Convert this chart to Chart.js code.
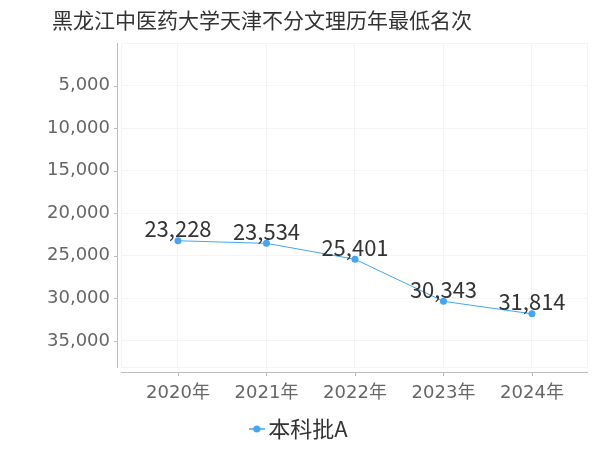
<!DOCTYPE html>
<html>
<head>
<meta charset="utf-8">
<script src="https://cdn.jsdelivr.net/npm/chart.js@4"></script>
<style>
  html, body { margin: 0; padding: 0; background: #fff; }
  #wrap { width: 600px; height: 450px; }
</style>
</head>
<body>
<div id="wrap"><canvas id="lineChart" width="600" height="450"></canvas></div>
<script>
// data
var years = ['2020年', '2021年', '2022年', '2023年', '2024年'];
var ranks = [23228, 23534, 25401, 30343, 31814];
var seriesName = '本科批A';
var yTicks = [5000, 10000, 15000, 20000, 25000, 30000, 35000];
var chartTitle = '黑龙江中医药大学天津不分文理历年最低名次';

var lineColor = '#42a5f5';
var axisColor = '#bdbdbd';
var gridColor = '#f4f4f4';

function fmt(v) {
  return v.toString().replace(/\B(?=(\d{3})+(?!\d))/g, ',');
}

// little line-with-dot icon for the legend
function legendIcon() {
  var c = document.createElement('canvas');
  c.width = 16; c.height = 8;
  var g = c.getContext('2d');
  g.strokeStyle = lineColor;
  g.lineWidth = 1.5;
  g.beginPath(); g.moveTo(0, 4); g.lineTo(16, 4); g.stroke();
  g.fillStyle = lineColor;
  g.beginPath(); g.arc(8, 4, 3.5, 0, Math.PI * 2); g.fill();
  return c;
}

// title (sits left of centre in the original), axis lines offset from the plot box, point labels
var decor = {
  id: 'decor',
  beforeDatasetsDraw: function(chart) {
    var a = chart.chartArea, ctx = chart.ctx;
    var xs = chart.scales.x, ys = chart.scales.y;
    ctx.save();
    ctx.fillStyle = '#333';
    ctx.font = '21px "Noto Sans CJK SC", sans-serif';
    ctx.textAlign = 'center';
    ctx.textBaseline = 'middle';
    ctx.fillText(chartTitle, 262, 20);

    ctx.strokeStyle = gridColor;
    ctx.lineWidth = 1;
    ctx.strokeRect(a.left + 0.5, a.top + 0.5, a.right - a.left - 1, a.bottom - a.top - 1);

    ctx.strokeStyle = axisColor;
    ctx.beginPath();
    ctx.moveTo(a.left - 3.5, a.top);
    ctx.lineTo(a.left - 3.5, a.bottom);
    yTicks.forEach(function(t) {
      var py = Math.round(ys.getPixelForValue(t)) + 0.5;
      ctx.moveTo(a.left - 7, py);
      ctx.lineTo(a.left - 3.5, py);
    });
    ctx.moveTo(a.left, a.bottom + 4.5);
    ctx.lineTo(a.right, a.bottom + 4.5);
    years.forEach(function(_, i) {
      var px = Math.round(xs.getPixelForValue(i)) + 0.5;
      ctx.moveTo(px, a.bottom + 4.5);
      ctx.lineTo(px, a.bottom + 8);
    });
    ctx.stroke();
    ctx.restore();
  },
  afterDatasetsDraw: function(chart) {
    var ctx = chart.ctx;
    var meta = chart.getDatasetMeta(0);
    ctx.save();
    ctx.font = '22px "Noto Sans CJK SC", "Noto Sans", sans-serif';
    ctx.fillStyle = '#333';
    ctx.textAlign = 'center';
    ctx.textBaseline = 'middle';
    meta.data.forEach(function(pt, i) {
      ctx.fillText(fmt(ranks[i]), pt.x, pt.y - 12);
    });
    ctx.restore();
  }
};

var ctx = document.getElementById('lineChart');

var myChart = new Chart(ctx, {
  type: 'line',
  data: {
    datasets: [{
      label: seriesName,
      data: ranks.map(function(v, i) { return { x: i, y: v }; }),
      borderColor: lineColor,
      backgroundColor: lineColor,
      borderWidth: 1,
      pointRadius: 3.5,
      pointHoverRadius: 3.5,
      pointBackgroundColor: lineColor,
      pointBorderWidth: 0,
      tension: 0
    }]
  },
  options: {
    responsive: false,
    animation: false,
    layout: { padding: { left: 16, right: 12, top: 43, bottom: 0 } },
    plugins: {
      title: { display: false },
      legend: {
        position: 'bottom',
        labels: {
          color: '#333',
          font: { size: 22, family: '"Noto Sans CJK SC", sans-serif' },
          usePointStyle: true,
          pointStyleWidth: 1,
          boxHeight: 8,
          padding: 10,
          generateLabels: function(chart) {
            var items = Chart.defaults.plugins.legend.labels.generateLabels(chart);
            items.forEach(function(it) { it.pointStyle = legendIcon(); });
            return items;
          }
        }
      },
      tooltip: { enabled: false }
    },
    scales: {
      x: {
        type: 'linear',
        min: -0.644,
        max: 4.633,
        afterBuildTicks: function(scale) {
          scale.ticks = years.map(function(_, i) { return { value: i }; });
        },
        afterFit: function(scale) { scale.height = 40; },
        grid: { color: gridColor, drawTicks: false },
        border: { display: false },
        ticks: {
          color: '#666',
          padding: 15,
          maxRotation: 0,
          font: { size: 18, family: '"DejaVu Sans", "Noto Sans CJK SC", sans-serif' },
          callback: function(v) { return years[v]; }
        }
      },
      y: {
        reverse: true,
        min: 0,
        max: 38177,
        afterBuildTicks: function(scale) {
          scale.ticks = yTicks.map(function(v) { return { value: v }; });
        },
        afterFit: function(scale) { scale.width = 105; },
        grid: { color: gridColor, drawTicks: false },
        border: { display: false },
        ticks: {
          color: '#666',
          padding: 11,
          font: { size: 18, family: '"DejaVu Sans", sans-serif' },
          callback: function(v) { return fmt(v); }
        }
      }
    }
  },
  plugins: [decor]
});
</script>
</body>
</html>
